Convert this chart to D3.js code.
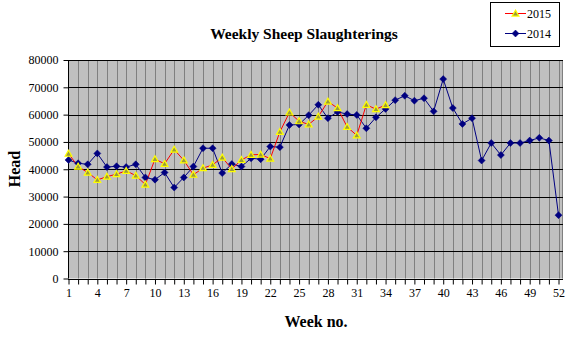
<!DOCTYPE html>
<html>
<head>
<meta charset="utf-8">
<script src="https://cdn.jsdelivr.net/npm/d3@7"></script>
<style>
  html, body { margin: 0; padding: 0; background: #fff; }
  svg { display: block; }
  text { font-family: "Liberation Serif", "Times New Roman", serif; }
</style>
</head>
<body>
<svg id="chart" width="572" height="337"></svg>
<script>
// Weekly head counts, one value per week
const weeks2014 = d3.range(1, 53);
const values2014 = [
  43400, 42200, 41800, 45800, 40800, 41100, 40800, 41800, 37000, 36200,
  38800, 33300, 37000, 41000, 47700, 47700, 38600, 41900, 41000, 44000,
  43700, 48300, 48100, 56200, 56400, 59800, 63600, 58700, 61000, 60200,
  59900, 55000, 59000, 62100, 65300, 66900, 65100, 66000, 61200, 73000,
  62400, 56600, 58700, 43200, 49600, 45200, 49600, 49600, 50500, 51500,
  50500, 23200
];
const weeks2015 = d3.range(1, 35);
const values2015 = [
  45700, 41000, 38800, 36100, 37300, 38200, 39400, 37700, 34400, 43700,
  42000, 47200, 43300, 38000, 40400, 41600, 44300, 40100, 43400, 45300,
  45400, 43900, 53700, 60800, 57600, 56400, 59300, 64800, 62400, 55500,
  52400, 63600, 62000, 63500
];
const yTicks = [0, 10000, 20000, 30000, 40000, 50000, 60000, 70000, 80000];
const xTickLabels = [1, 4, 7, 10, 13, 16, 19, 22, 25, 28, 31, 34, 37, 40, 43, 46, 49, 52];

const seriesNames = ["2015", "2014"];

const svg = d3.select("#chart");
const plot = { left: 68, right: 563, top: 60, bottom: 278.5 };

const x = d3.scaleLinear().domain([1, 52]).range([68.5, 558.5]);
const y = d3.scaleLinear().domain([0, 80000]).range([plot.bottom, plot.top]);

// Plot background
svg.append("rect")
  .attr("x", plot.left).attr("y", plot.top)
  .attr("width", plot.right - plot.left).attr("height", plot.bottom - plot.top)
  .attr("fill", "#c0c0c0");

// Vertical gridlines: one per week plus the right border
const g = svg.append("g");
g.selectAll("line.vg").data(weeks2014.slice(1)).join("line")
  .attr("class", "vg")
  .attr("x1", d => Math.round(x(d)) + 0.5).attr("x2", d => Math.round(x(d)) + 0.5)
  .attr("y1", plot.top).attr("y2", plot.bottom)
  .attr("stroke", "#808080").attr("stroke-width", 1);
g.append("line")
  .attr("x1", plot.right - 0.5).attr("x2", plot.right - 0.5)
  .attr("y1", plot.top).attr("y2", plot.bottom)
  .attr("stroke", "#808080");

// Horizontal gridlines
g.selectAll("line.hg").data(yTicks.slice(1)).join("line")
  .attr("class", "hg")
  .attr("x1", plot.left).attr("x2", plot.right)
  .attr("y1", d => Math.round(y(d)) + 0.5).attr("y2", d => Math.round(y(d)) + 0.5)
  .attr("stroke", "#000").attr("stroke-width", 1);

// Y axis
const yAxis = d3.axisLeft(y).tickValues(yTicks).tickSize(5).tickPadding(5)
  .tickFormat(d3.format("d"));
svg.append("g")
  .attr("transform", `translate(${plot.left + 0.5},0)`)
  .call(yAxis)
  .call(a => a.selectAll("text").attr("font-size", 12).attr("fill", "#000"))
  .call(a => a.selectAll("line").attr("stroke", "#000"))
  .call(a => a.select(".domain").attr("stroke", "#000").attr("d", `M0,${plot.top}V${plot.bottom}`));

// X axis: ticks at every week, labels every third week
const xAxis = d3.axisBottom(x).tickValues(weeks2014).tickSize(5).tickPadding(4)
  .tickFormat(d => xTickLabels.includes(d) ? d : "");
svg.append("g")
  .attr("transform", `translate(0,${Math.round(plot.bottom) + 0.5})`)
  .call(xAxis)
  .call(a => a.selectAll("text").attr("font-size", 12).attr("fill", "#000"))
  .call(a => a.selectAll("line").attr("stroke", "#000"))
  .call(a => a.select(".domain").attr("stroke", "#000").attr("d", `M${plot.left},0H${plot.right}`));

// Lines
const line = d3.line().x(d => x(d[0])).y(d => y(d[1]));
const data2014 = weeks2014.map((w, i) => [w, values2014[i]]);
const data2015 = weeks2015.map((w, i) => [w, values2015[i]]);

svg.append("path").datum(data2014)
  .attr("d", line).attr("fill", "none").attr("stroke", "#000080").attr("stroke-width", 1);
svg.append("path").datum(data2015)
  .attr("d", line).attr("fill", "none").attr("stroke", "#ff0000").attr("stroke-width", 1);

// Markers
const diamond = (cx, cy, r) => `M${cx},${cy - r}L${cx + r},${cy}L${cx},${cy + r}L${cx - r},${cy}Z`;
const triangle = (cx, cy, r) => `M${cx},${cy - r}L${cx + r},${cy + r * 0.75}L${cx - r},${cy + r * 0.75}Z`;

svg.append("g").selectAll("path").data(data2014).join("path")
  .attr("d", d => diamond(x(d[0]), y(d[1]), 3.5))
  .attr("fill", "#000080").attr("stroke", "#000080").attr("stroke-width", 0.5);

svg.append("g").selectAll("path").data(data2015).join("path")
  .attr("d", d => triangle(x(d[0]), y(d[1]), 3.4))
  .attr("fill", "#9a9a3a").attr("stroke", "#ffff00").attr("stroke-width", 1.2);

// Title and axis titles
svg.append("text").attr("x", 304).attr("y", 39).attr("text-anchor", "middle")
  .attr("font-size", 15.5).attr("font-weight", "bold").text("Weekly Sheep Slaughterings");
svg.append("text").attr("x", 316).attr("y", 327).attr("text-anchor", "middle")
  .attr("font-size", 16).attr("font-weight", "bold").text("Week no.");
svg.append("text").attr("transform", "translate(20,169) rotate(-90)").attr("text-anchor", "middle")
  .attr("font-size", 16).attr("font-weight", "bold").text("Head");

// Legend
const legend = svg.append("g");
legend.append("rect").attr("x", 490.5).attr("y", 2.5).attr("width", 69).attr("height", 44)
  .attr("fill", "#fff").attr("stroke", "#000").attr("stroke-width", 1);
const legendRows = [
  { name: seriesNames[0], color: "#ff0000", y: 13.5, marker: "tri" },
  { name: seriesNames[1], color: "#000080", y: 33.5, marker: "dia" }
];
legendRows.forEach(r => {
  legend.append("line").attr("x1", 505).attr("x2", 526).attr("y1", r.y).attr("y2", r.y)
    .attr("stroke", r.color).attr("stroke-width", 1);
  if (r.marker === "tri") {
    legend.append("path").attr("d", triangle(515.5, r.y, 3.4))
      .attr("fill", "#9a9a3a").attr("stroke", "#ffff00").attr("stroke-width", 1.2);
  } else {
    legend.append("path").attr("d", diamond(515.5, r.y, 3.5))
      .attr("fill", "#000080").attr("stroke", "#000080").attr("stroke-width", 0.5);
  }
  legend.append("text").attr("x", 527).attr("y", r.y + 4).attr("font-size", 12).text(r.name);
});
</script>
</body>
</html>
